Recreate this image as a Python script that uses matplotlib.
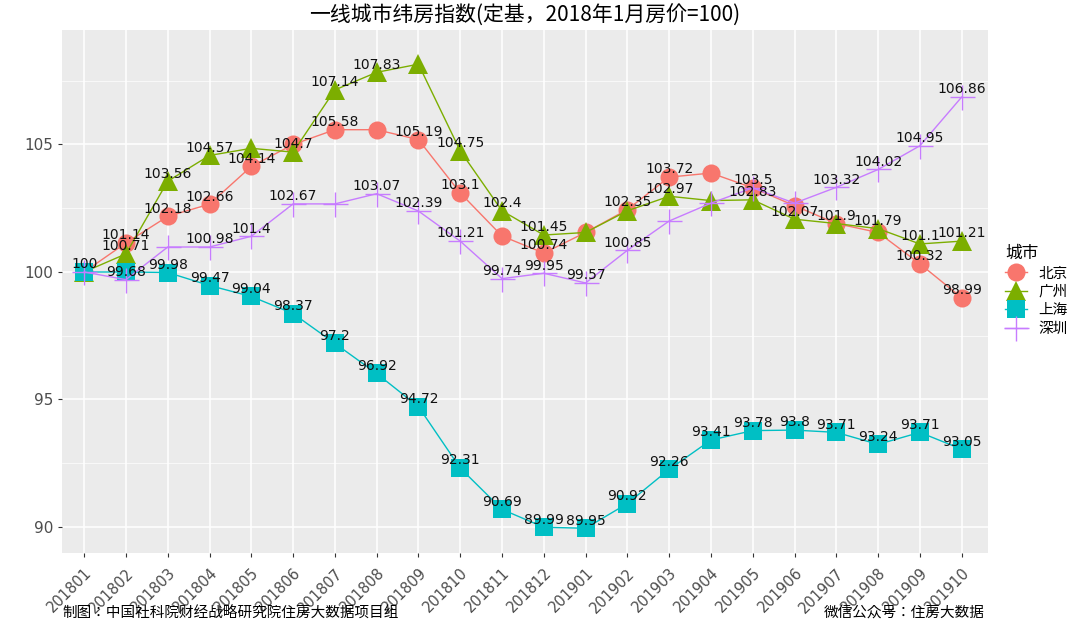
import matplotlib
matplotlib.use("Agg")
import matplotlib.pyplot as plt
from matplotlib import font_manager as fm

cjk = None
for f in fm.fontManager.ttflist:
    if "CJK" in f.name and "SC" in f.name:
        cjk = f.name
        break
if cjk is None:
    for f in fm.fontManager.ttflist:
        if "CJK" in f.name:
            cjk = f.name
            break
plt.rcParams["font.family"] = [cjk or "DejaVu Sans", "DejaVu Sans"]

months = ["201801","201802","201803","201804","201805","201806","201807","201808","201809","201810","201811",
          "201812","201901","201902","201903","201904","201905","201906","201907","201908","201909","201910"]
beijing = [100,101.14,102.18,102.66,104.14,105.0,105.58,105.58,105.19,103.1,101.41,100.74,101.55,102.45,103.72,103.88,103.3,102.6,101.9,101.55,100.32,98.99]
guangzhou = [100,100.71,103.56,104.57,104.85,104.7,107.14,107.83,108.15,104.75,102.4,101.45,101.55,102.4,102.97,102.8,102.83,102.07,101.9,101.7,101.1,101.21]
shanghai = [100,100.0,99.98,99.47,99.04,98.37,97.2,96.02,94.72,92.31,90.69,89.99,89.95,90.92,92.26,93.41,93.78,93.8,93.71,93.24,93.71,93.05]
shenzhen = [100,99.7,100.98,100.98,101.4,102.67,102.67,103.07,102.39,101.21,99.74,99.95,99.57,100.85,102.0,102.7,103.3,102.7,103.32,104.02,104.95,106.86]

bj_lab = ["100","101.14","102.18","102.66","104.14","","105.58","","105.19","103.1","","100.74","","102.35","103.72","","103.5","","101.9","","100.32","98.99"]
gz_lab = ["","100.71","103.56","104.57","","104.7","107.14","107.83","","104.75","102.4","101.45","","","102.97","","102.83","102.07","","101.79","101.1","101.21"]
sh_lab = ["","","99.98","99.47","99.04","98.37","97.2","96.92","94.72","92.31","90.69","89.99","89.95","90.92","92.26","93.41","93.78","93.8","93.71","93.24","93.71","93.05"]
sz_lab = ["","99.68","","100.98","101.4","102.67","","103.07","102.39","101.21","99.74","99.95","99.57","100.85","","","","","103.32","104.02","104.95","106.86"]

series = [("北京", beijing, bj_lab, "#F8766D", "o", 13),
          ("广州", guangzhou, gz_lab, "#7CAE00", "^", 15),
          ("上海", shanghai, sh_lab, "#00BFC4", "s", 13),
          ("深圳", shenzhen, sz_lab, "#C77CFF", "+", 18)]

fig = plt.figure(figsize=(10.8, 6.29), dpi=100)
ax = fig.add_axes([62/1080, 1-553/629, 926/1080, 523/629])
ax.set_facecolor("#EBEBEB")
x = list(range(len(months)))
for name, vals, labs, c, m, ms in series:
    ax.plot(x, vals, color=c, lw=1, marker=m, ms=ms, mew=1 if m == "+" else 0,
            mec=c, label=name, zorder=3)
for name, vals, labs, c, m, ms in series:
    for xi, v, t in zip(x, vals, labs):
        if t:
            ax.text(xi, v + 0.3, t, ha="center", va="center", fontsize=10,
                    family="DejaVu Sans", color="#111111", zorder=5)

ax.set_xlim(-0.53, 21.63)
ax.set_ylim(88.98, 109.49)
ax.set_xticks(x)
ax.set_xticklabels(months, rotation=45, ha="right", rotation_mode="anchor", fontsize=10.5, color="#4D4D4D",
                   family="DejaVu Sans")
ax.set_yticks([90, 95, 100, 105])
ax.set_yticklabels(["90", "95", "100", "105"], family="DejaVu Sans")
ax.set_yticks([92.5, 97.5, 102.5, 107.5], minor=True)
ax.tick_params(axis="y", labelsize=11, colors="#4D4D4D", which="major", length=3, color="#333333")
ax.tick_params(axis="y", which="minor", length=0)
ax.tick_params(axis="x", length=3, color="#333333", pad=6)
ax.grid(True, which="major", color="white", lw=1.1)
ax.grid(True, which="minor", axis="y", color="white", lw=0.5)
ax.set_axisbelow(True)
for s in ax.spines.values():
    s.set_visible(False)

leg = fig.legend(loc="upper left", bbox_to_anchor=(992/1080, 1-232/629), title="城市",
                 frameon=False, fontsize=10.5, title_fontsize=12, handlelength=1.5, labelspacing=0.3,
                 alignment="left")
fig.suptitle("一线城市纬房指数(定基，2018年1月房价=100)", y=1-16/629, va="center", fontsize=15, x=525/1080)
fig.text(62/1080, 1-614/629, "制图：中国社科院财经战略研究院住房大数据项目组", fontsize=10.5, va="center")
fig.text(985/1080, 1-614/629, "微信公众号：住房大数据", fontsize=10.5, va="center", ha="right")
fig.savefig("out.png", dpi=100, facecolor="white")
